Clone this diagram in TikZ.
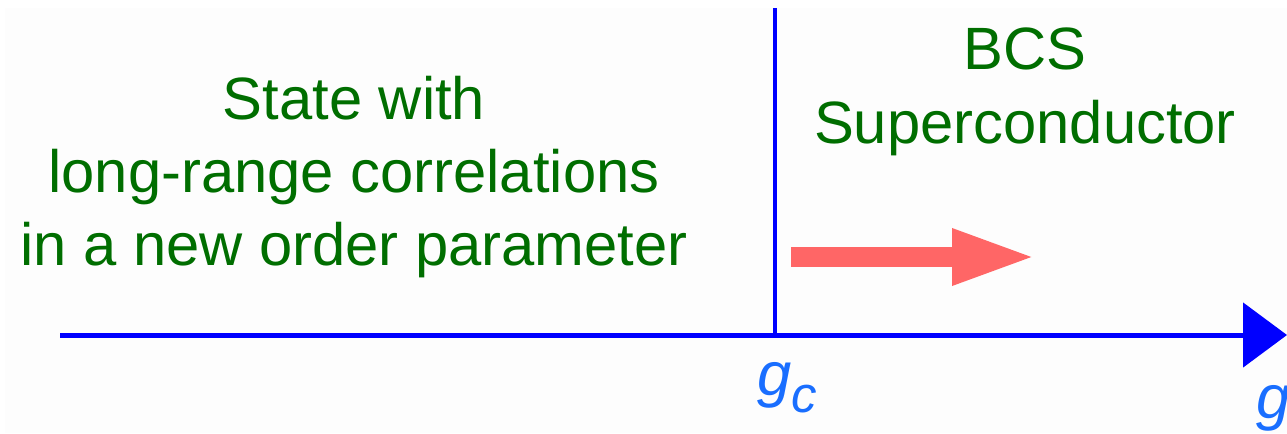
\documentclass[tikz,border=0pt]{standalone}
\usepackage{fontspec}
\setmainfont{Liberation Sans}
\usepackage{tikz}
\usetikzlibrary{arrows.meta,positioning}
\definecolor{axisblue}{RGB}{0,0,255}
\definecolor{labelblue}{RGB}{25,110,255}
\definecolor{phasegreen}{RGB}{0,110,0}
\definecolor{flowred}{RGB}{255,102,102}
\definecolor{paper}{RGB}{253,253,253}

\begin{document}
\begin{tikzpicture}[x=0.02cm,y=-0.02cm,
  phase/.style={text=phasegreen,align=center,inner sep=0pt,font=\fontsize{34}{41.5}\selectfont},
  coupling/.style={text=labelblue,inner sep=0pt,anchor=base west,font=\fontsize{35}{35}\selectfont\itshape}]
  \useasboundingbox (0,0) rectangle (1287,433);
  \fill[paper] (5,8) rectangle (1287,433);
  % the two phases
  \node[phase] (ordered) at (354,177) {State with\\long-range correlations\\in a new order parameter};
  \node[phase,font=\fontsize{34}{42}\selectfont] (bcs) at (1025,92) {BCS\\Superconductor};
  % coupling axis and critical point
  \coordinate (axisstart) at (60,335);
  \coordinate (axisend) at (1287,335);
  \coordinate (gctop) at (775,8);
  \coordinate (gcfoot) at (775,335);
  \draw[axisblue,line width=0.1cm,-{Triangle[length=0.88cm,width=1.28cm]}] (axisstart) -- (axisend);
  \draw[axisblue,line width=0.08cm] (gctop) -- (gcfoot);
  \node[coupling] (gc) at (757,395) {g\raisebox{-10pt}{\fontsize{29}{29}\selectfont c}};
  \node[coupling] (g) at (1256,418) {g};
  % flow towards BCS
  \coordinate (flowstart) at (791,257);
  \coordinate (flowend) at (1037,257);
  \draw[flowred,line width=0.4cm,-{Triangle[length=1.7cm,width=1.02cm]}] (flowstart) -- (flowend);
\end{tikzpicture}
\end{document}
